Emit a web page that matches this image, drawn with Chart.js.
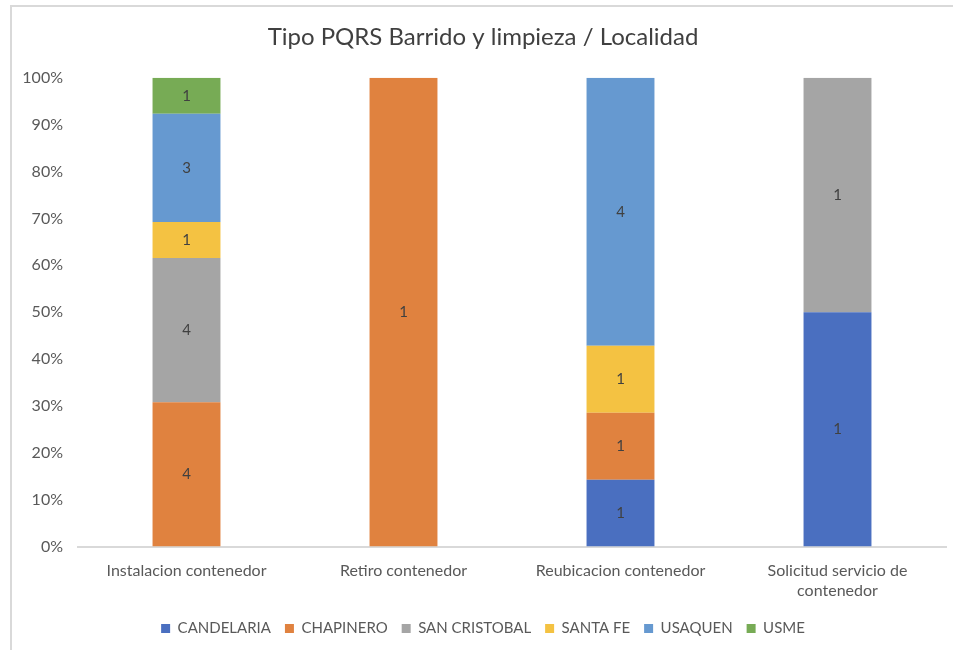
<!DOCTYPE html>
<html>
<head>
<meta charset="utf-8">
<script src="https://cdn.jsdelivr.net/npm/chart.js@4.4.1/dist/chart.umd.min.js"></script>
<style>
  body { margin: 0; background: #fff; }
  #wrap { position: absolute; left: 10px; top: 5px; width: 943px; height: 645px;
          border-left: 2px solid #d9d9d9; border-top: 2px solid #d9d9d9; }
</style>
</head>
<body>
<div id="wrap"><canvas id="mycanvas" width="941" height="643"></canvas></div>
<script>
// categorias y conteos por localidad
var tipos = ["Instalacion contenedor", "Retiro contenedor", "Reubicacion contenedor", ["Solicitud servicio de", "contenedor"]];
var localidades = ["CANDELARIA", "CHAPINERO", "SAN CRISTOBAL", "SANTA FE", "USAQUEN", "USME"];
var candelaria   = [0, 0, 1, 1];
var chapinero    = [4, 1, 1, 0];
var sanCristobal = [4, 0, 0, 1];
var santaFe      = [1, 0, 1, 0];
var usaquen      = [3, 0, 4, 0];
var usme         = [1, 0, 0, 0];
var yTicks = [0, 10, 20, 30, 40, 50, 60, 70, 80, 90, 100];

var colores = ['#4a6fc0', '#e0823f', '#a5a5a5', '#f4c242', '#6699d0', '#77ab55'];
var series = [candelaria, chapinero, sanCristobal, santaFe, usaquen, usme];

var totales = [];
for (var i = 0; i < tipos.length; i++) {
    var t = 0;
    for (var s = 0; s < series.length; s++) t += series[s][i];
    totales.push(t);
}

var datasets = [];
for (var s = 0; s < series.length; s++) {
    var pct = [];
    for (var i = 0; i < tipos.length; i++) pct.push(series[s][i] / totales[i] * 100);
    datasets.push({
        label: localidades[s],
        data: pct,
        counts: series[s],
        backgroundColor: colores[s],
        borderWidth: 0,
        categoryPercentage: 1,
        barPercentage: 0.313
    });
}

var etiquetas = {
    id: 'etiquetas',
    afterDatasetsDraw: function (chart) {
        var ctx = chart.ctx;
        ctx.save();
        ctx.font = '15px Lato';
        ctx.fillStyle = '#404040';
        ctx.textAlign = 'center';
        ctx.textBaseline = 'middle';
        chart.data.datasets.forEach(function (ds, di) {
            var meta = chart.getDatasetMeta(di);
            meta.data.forEach(function (bar, j) {
                if (!ds.counts[j]) return;
                ctx.fillText(ds.counts[j], bar.x, (bar.y + bar.base) / 2);
            });
        });
        ctx.restore();
    }
};

Chart.defaults.font.family = 'Lato';
Chart.defaults.color = '#595959';

new Chart(document.getElementById('mycanvas'), {
    type: 'bar',
    data: { labels: tipos, datasets: datasets },
    plugins: [etiquetas],
    options: {
        responsive: false,
        animation: false,
        layout: { padding: { left: 8, right: 7, top: 0, bottom: 4 } },
        plugins: {
            title: {
                display: true,
                text: 'Tipo PQRS Barrido y limpieza / Localidad',
                font: { size: 24, weight: 'normal' },
                color: '#404040',
                padding: { top: 16, bottom: 26 }
            },
            legend: {
                position: 'bottom',
                labels: { boxWidth: 9, boxHeight: 9, font: { size: 15 }, padding: 14 }
            },
            tooltip: { enabled: false }
        },
        scales: {
            x: {
                stacked: true,
                grid: { display: false },
                border: { color: '#d9d9d9', width: 2 },
                ticks: { font: { size: 16 }, maxRotation: 0, autoSkip: false, padding: 7 }
            },
            y: {
                stacked: true,
                min: 0,
                max: 100,
                afterBuildTicks: function (scale) {
                    scale.ticks = yTicks.map(function (v) { return { value: v }; });
                },
                afterFit: function (scale) { scale.width = 58; },
                grid: { display: false },
                border: { display: false },
                ticks: {
                    font: { size: 16 },
                    padding: 7,
                    callback: function (v) { return v + '%'; }
                }
            }
        }
    }
});
</script>
</body>
</html>
